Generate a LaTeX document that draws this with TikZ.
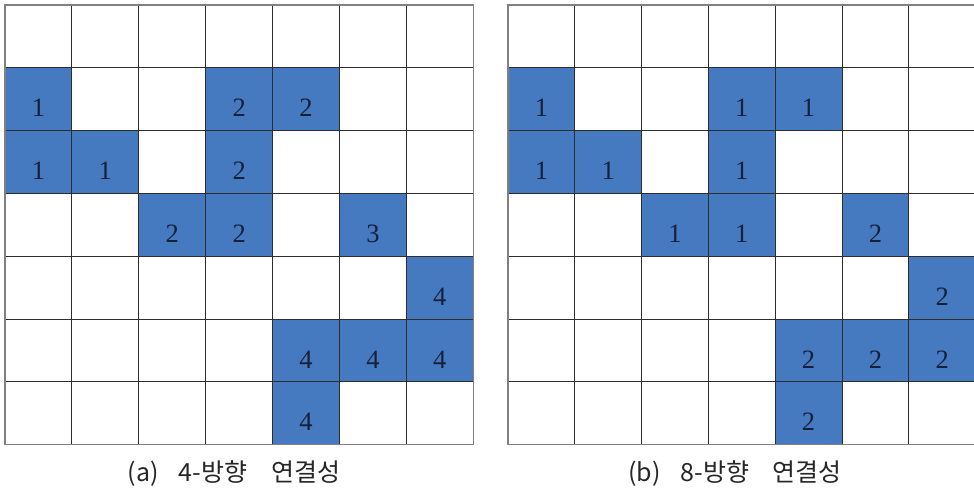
\documentclass[tikz,border=0pt]{standalone}
\usepackage{fontspec}
\setmainfont{Liberation Serif}
\newfontfamily\capfont{Noto Sans CJK KR}
\usepackage{tikz}
\usetikzlibrary{positioning}
\definecolor{cellblue}{RGB}{70,122,192}
\definecolor{numnavy}{RGB}{22,32,58}
\definecolor{gridgray}{RGB}{45,45,45}

\begin{document}
\begin{tikzpicture}[
  x=1pt, y=-1pt,
  cellbox/.style={fill=cellblue, draw=none, minimum width=66.9pt, minimum height=62.8pt,
                  inner sep=0pt},
  num/.style={inner sep=0pt, yshift=-9pt, text=numnavy, font=\fontsize{26.5}{26.5}\selectfont},
  gline/.style={draw=gridgray, line width=0.9pt},
  border/.style={draw=black!50, line width=1.2pt},
  captext/.style={inner sep=0pt, text=black!85, font=\capfont\fontsize{25}{25}\selectfont}
]
\useasboundingbox (0,0) rectangle (974,496);

% (a) 4-direction labels
\foreach \r/\c/\n in {1/0/1, 1/3/2, 1/4/2, 2/0/1, 2/1/1, 2/3/2, 3/2/2, 3/3/2, 3/5/3,
                      4/6/4, 5/4/4, 5/5/4, 5/6/4, 6/4/4} {
  \node[cellbox] (a-\r-\c) at ({5+(\c+0.5)*66.9},{5+(\r+0.5)*62.8}) {};
}
\foreach \i in {0,...,7} {
  \draw[gline] ({5+\i*66.9},5) -- ({5+\i*66.9},444.6);
  \draw[gline] (5,{5+\i*62.8}) -- (473.3,{5+\i*62.8});
}
\draw[border] (5,5) rectangle (473.3,444.6);
\foreach \r/\c/\n in {1/0/1, 1/3/2, 1/4/2, 2/0/1, 2/1/1, 2/3/2, 3/2/2, 3/3/2, 3/5/3,
                      4/6/4, 5/4/4, 5/5/4, 5/6/4, 6/4/4} {
  \node[num] (na-\r-\c) at (a-\r-\c.center) {\n};
}

% (b) 8-direction labels
\foreach \r/\c/\n in {1/0/1, 1/3/1, 1/4/1, 2/0/1, 2/1/1, 2/3/1, 3/2/1, 3/3/1, 3/5/2,
                      4/6/2, 5/4/2, 5/5/2, 5/6/2, 6/4/2} {
  \node[cellbox] (b-\r-\c) at ({508+(\c+0.5)*66.8},{5+(\r+0.5)*62.8}) {};
}
\foreach \i in {0,...,7} {
  \draw[gline] ({508+\i*66.8},5) -- ({508+\i*66.8},444.6);
  \draw[gline] (508,{5+\i*62.8}) -- (975.6,{5+\i*62.8});
}
\draw[border] (508,5) rectangle (975.6,444.6);
\foreach \r/\c/\n in {1/0/1, 1/3/1, 1/4/1, 2/0/1, 2/1/1, 2/3/1, 3/2/1, 3/3/1, 3/5/2,
                      4/6/2, 5/4/2, 5/5/2, 5/6/2, 6/4/2} {
  \node[num] (nb-\r-\c) at (b-\r-\c.center) {\n};
}

% captions
\node[captext] (capa) at (234,474) {(a)\hspace{0.8em}4-방향\hspace{0.95em}연결성};
\node[captext] (capb) at (735,474) {(b)\hspace{0.8em}8-방향\hspace{0.95em}연결성};
\end{tikzpicture}
\end{document}
